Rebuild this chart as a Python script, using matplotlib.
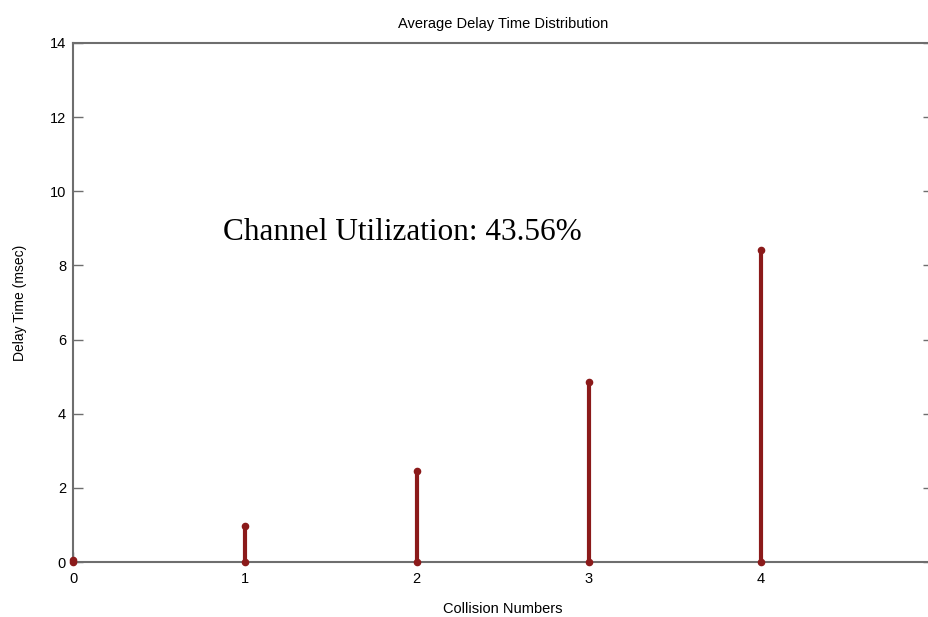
import matplotlib
matplotlib.use("Agg")
import matplotlib.pyplot as plt

# collision numbers and average delay (msec)
collisions = [0, 1, 2, 3, 4, 5]
delays = [0.05, 0.97, 2.45, 4.85, 8.41, 13.25]
x_ticks = [0, 1, 2, 3, 4, 5]
y_ticks = [0, 2, 4, 6, 8, 10, 12, 14]

stem_col = '#8b1a1a'
axis_col = '#6e6e6e'

fig = plt.figure(figsize=(9.29, 6.17), dpi=100)
# right edge of the box falls just outside the picture, as in the scan
ax = fig.add_axes([73/929, 1-562/617, (932.5-73)/929, (562-43)/617])

ax.vlines(collisions, 0, delays, color=stem_col, lw=3, zorder=3)
ax.scatter(collisions, delays, s=20, color=stem_col, zorder=4, clip_on=False)
ax.scatter(collisions, [0]*len(collisions), s=20, color=stem_col, zorder=4, clip_on=False)

ax.set_xlim(0, 5)
ax.set_ylim(0, 14)
ax.set_xticks(x_ticks)
ax.set_yticks(y_ticks)
ax.tick_params(direction='in', length=7, width=1, color=axis_col,
               top=False, right=True, labelsize=10.5)
ax.tick_params(axis='x', pad=7)
ax.tick_params(axis='y', pad=5)
for lab in ax.get_xticklabels() + ax.get_yticklabels():
    lab.set_family('Liberation Sans')
for sp in ax.spines.values():
    sp.set_color(axis_col)
    sp.set_linewidth(1.5)

ax.set_title('Average Delay Time Distribution', family='Liberation Sans',
             fontsize=10.5, pad=11)
ax.set_xlabel('Collision Numbers', family='Liberation Sans', fontsize=10.5, labelpad=12)
ax.set_ylabel('Delay Time (msec)', family='Liberation Sans', fontsize=10, labelpad=16)

ax.text(0.87, 8.9, 'Channel Utilization: 43.56%', family='Liberation Serif',
        fontsize=22.5, va='center', ha='left')

fig.savefig('out.png', dpi=100)
